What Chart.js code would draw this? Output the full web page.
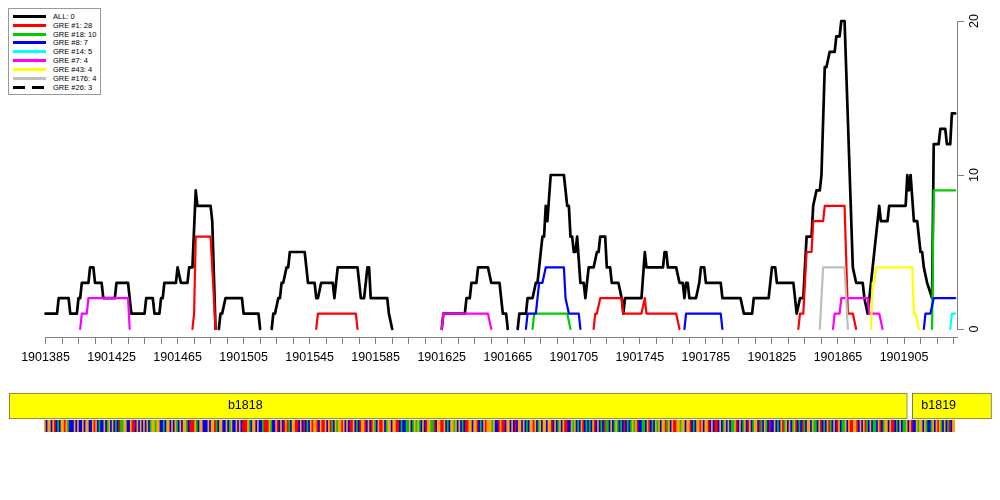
<!DOCTYPE html>
<html>
<head>
<meta charset="utf-8">
<script src="https://cdn.jsdelivr.net/npm/chart.js@4.4.0/dist/chart.umd.min.js"></script>
<style>
  body { margin: 0; background: #fff; }
  #wrap { position: relative; width: 1000px; height: 500px; overflow: hidden; }
  canvas { position: absolute; left: 0; }
  #main { top: 0; }
  #genes { top: 385px; }
  #seq { top: 420px; }
  #legend {
    position: absolute; left: 8px; top: 8px; width: 93px; height: 87px;
    box-sizing: border-box; border: 1px solid #999; background: #fff;
    padding-top: 3px; font: 7.5px "Liberation Sans", Arial, sans-serif; color: #000;
  }
  #legend .row { height: 8.85px; display: flex; align-items: center; }
  #legend .swatch { flex: none; width: 33px; height: 3px; margin: 0 7px 0 4px; }
</style>
</head>
<body>
<div id="wrap">
  <canvas id="main" width="1000" height="385"></canvas>
  <canvas id="genes" width="1000" height="42"></canvas>
  <canvas id="seq" width="1000" height="12"></canvas>
  <div id="legend"></div>
</div>
<script>
// genomic region shown (bp); offsets below are counted from regionStart
const regionStart = 1901385;
const xTickEnd = 1901935;
const xTickLabels = [1901385, 1901425, 1901465, 1901505, 1901545, 1901585, 1901625,
                     1901665, 1901705, 1901745, 1901785, 1901825, 1901865, 1901905];
const yTicks = [0, 10, 20];

const seriesNames = ['ALL: 0', 'GRE #1: 28', 'GRE #18: 10', 'GRE #8: 7', 'GRE #14: 5',
                     'GRE #7: 4', 'GRE #43: 4', 'GRE #176: 4', 'GRE #26: 3'];

// ALL (black) - null breaks the line
const allOffset = [
  0, 7, 8, 14, 15, 19, 20, 21, 22, 26, 27, 29, 30, 34, 35, 42, 43, 50, 52, 60,
  61, 65, 66, 69, 70, 71, 72, 79, 80, 82, 86, 87, 89, 91, 92, 100, 101, 103, 104,
  105, 106, 107, 109, 119, 120, 129, 130, 133,
  137, 138, 139, 141, 142, 143, 144, 146, 147, 148, 157, 158, 159, 163, 164,
  165, 167, 174, 175, 177, 189, 191, 193, 195, 196, 197, 207, 208, 210, 225,
  240, 241, 254, 255, 257, 258, 261, 262, 268, 270, 275, 277, 279, 280, 283,
  286, 287, 291, 292, 295, 297, 298, 299, 301, 302,
  303, 304, 306, 314, 316, 317, 318, 319, 320, 321,
  322, 324, 326, 327, 329, 332, 334, 335, 336, 339,
  340, 342, 343, 347, 349, 350, 351, 361, 363, 364,
  374, 375, 376, 377, 382, 384, 386, 387, 388, 389,
  390, 394, 396, 397, 399, 400, 409, 410, 421, 423,
  428, 429, 438, 439, 440, 442, 443, 453, 455, 457,
  459, 461, 464, 465, 467, 469, 470, 472, 473, 475,
  478, 479, 481, 482, 484, 489, 491, 495, 496, 498,
  500, 502, 503, 505, 506, 510, 511, 521, 522, 523,
  524, 526, 528, 530, 531, 532, 534, 537, 538, 541,
  542, 545, 546, 548, 549, 551
];
const allValue = [
  1, 1, 2, 2, 1, 1, 2, 2, 3, 3, 4, 4, 3, 3, 2, 2, 3, 3, 1, 1,
  2, 2, 1, 1, 2, 2, 3, 3, 4, 3, 3, 4, 4, 9, 8, 8, 7, 0, null,
  0, 1, 1, 2, 2, 1, 1, 0, null,
  0, 1, 1, 2, 2, 3, 3, 4, 4, 5, 5, 4, 3, 3, 2,
  2, 3, 3, 2, 4, 4, 2, 2, 4, 4, 2, 2, 1, 0, null,
  0, 1, 1, 2, 2, 3, 3, 4, 4, 3, 3, 1, 1, 0, null,
  0, 1, 1, 2, 2, 3, 3, 4, 6, 6,
  8, 7, 10, 10, 8, 8, 6, 6, 5, 5,
  6, 3, 3, 2, 4, 4, 5, 5, 6, 6,
  4, 4, 3, 3, 2, 1, 2, 2, 5, 4,
  4, 5, 5, 4, 4, 3, 3, 2, 3, 3,
  2, 2, 3, 4, 4, 3, 3, 2, 2, 1,
  1, 2, 2, 3, 4, 4, 3, 3, 1, 2,
  2, 6, 6, 8, 9, 9, 10, 17, 17, 18,
  18, 19, 19, 20, 20, 4, 3, 3, 2, 1,
  3, 5, 6, 8, 7, 7, 8, 8, 10, 9,
  10, 7, 7, 5, 5, 4, 3, 2, 12, 12,
  13, 13, 12, 12, 14, 14
];

// GRE #1 (red)
const gre1Offset = [89, 90, 91, 100, 103, 130, 164, 165, 188, 189, 260,
  332, 333, 334, 336, 349, 350, 361, 363, 364, 382, 384, 420,
  456, 457, 459, 461, 464, 465, 471, 472, 484, 486, 489, 491];
const gre1Value = [0, 1, 6, 6, 0, null, 0, 1, 1, 0, null,
  0, 1, 1, 2, 2, 1, 1, 2, 1, 1, 0, null,
  0, 1, 1, 5, 5, 7, 7, 8, 8, 1, 1, 0];

// GRE #18 (green)
const gre18Offset = [295, 296, 316, 318, 420, 537, 538, 551];
const gre18Value = [0, 1, 1, 0, null, 0, 9, 9];

// GRE #8 (blue)
const gre8Offset = [291, 292, 297, 299, 301, 303, 314, 315, 317, 323, 324, 350,
  387, 388, 409, 410, 470, 532, 533, 536, 538, 551];
const gre8Value = [0, 1, 1, 3, 3, 4, 4, 2, 1, 1, 0, null,
  0, 1, 1, 0, null, 0, 1, 1, 2, 2];

// GRE #14 (cyan)
const gre14Offset = [548, 549, 551];
const gre14Value = [0, 1, 1];

// GRE #7 (magenta)
const gre7Offset = [21, 22, 25, 26, 50, 51, 150, 240, 241, 268, 270, 400,
  477, 478, 481, 482, 498, 499, 505, 507];
const gre7Value = [0, 1, 1, 2, 2, 0, null, 0, 1, 1, 0, null,
  0, 1, 1, 2, 2, 1, 1, 0];

// GRE #43 (yellow)
const gre43Offset = [500, 501, 502, 503, 525, 526, 527, 529];
const gre43Value = [0, 3, 3, 4, 4, 1, 1, 0];

// GRE #176 (grey)
const gre176Offset = [469, 471, 484, 486];
const gre176Value = [0, 4, 4, 0];

// GRE #26 (dashed) - nothing visible in the plot
const gre26Offset = [];
const gre26Value = [];

// gene track
const geneNames = ['b1818', 'b1819'];
const geneStart = [1901363, 1901910];
const geneEnd = [1901907, 1901958];
const geneLabelAt = [1901506, 1901926];

// sequence strip, one base per bp from regionStart
const seqBases =
  'GCGGCGTCACGGTGACCCGCGCCGCGGCCGTGCACCGCAGCGCACTAAGG' +
  'CCGTTCGCGCGCGCAGGAGGCCACGGCGCGACGCGGACTTTGACGGCCCG' +
  'CGGTACGGCCGCAGCCGCGCTTTGACGGCGCCATTTGACCGTCGCTGTAC' +
  'GGTTCGCTCACGTGGTCGTTGCGTACGAGGTGCGCTTGCACTGGTCGCTG' +
  'ACGTTGCAGGCGGTTCACCAAGCAGAGACGCTGGAATCGGTTGCACGGAG' +
  'CGCACTTGGCGGTCACGTGGGAGCCTGTTCGGCGCTCGGCGCACGGTGCA' +
  'GCGGCGGTCGCAGCGTTCCGAGCACGTCACACGTCGCACTAACGCAGACA' +
  'CTCACAGAGTCCAACGTCACGAGCGGTAGCGTTGGAGGCGGTCACGGTGC' +
  'GGTCGCTTCGCAGCGCAAGTCGCAGCTGCAGGCTACGACTCCGCACGTAG' +
  'CGCAGTCACTACGGCGAACGTCACGTACGCTGCAAGCGTTGGTCGCGTAC' +
  'GCAACGTCAGGCGTTCACGCAAGCGTCCGAGGCGACCAGCGTGACGCATC' +
  'G';

const seriesOffsets = [allOffset, gre1Offset, gre18Offset, gre8Offset, gre14Offset,
                       gre7Offset, gre43Offset, gre176Offset, gre26Offset];
const seriesValues = [allValue, gre1Value, gre18Value, gre8Value, gre14Value,
                      gre7Value, gre43Value, gre176Value, gre26Value];
const seriesColors = ['#000000', '#ff0000', '#00cd00', '#0000ff', '#00ffff',
                      '#ff00ff', '#ffff00', '#bebebe', '#000000'];
const baseColors = { A: '#00c800', C: '#0000ff', G: '#ffa500', T: '#ff0000' };

const axisGray = '#808080';
const tickFont = { family: 'Liberation Sans', size: 12.5 };

// x mapping shared by all three canvases (plot area 45..957 px)
const xMin = 1901384.7;
const xMax = 1901937.1;
const bpPerPx = (xMax - xMin) / 912;
const fullMin = xMin - 45 * bpPerPx;
const fullMax = fullMin + 1000 * bpPerPx;

const xMinorTicks = [];
for (let v = regionStart; v <= xTickEnd; v += 10) xMinorTicks.push(v);

const toPoints = (off, val) => off.map((o, i) => ({ x: regionStart + o, y: val[i] }));

new Chart(document.getElementById('main'), {
  type: 'line',
  data: {
    datasets: seriesNames.map((name, i) => ({
      label: name,
      data: toPoints(seriesOffsets[i], seriesValues[i]),
      borderColor: seriesColors[i],
      backgroundColor: seriesColors[i],
      borderWidth: i === 0 ? 2.7 : 2.2,
      borderDash: i === 8 ? [6, 4] : [],
      borderJoinStyle: 'round',
      borderCapStyle: 'round',
      pointRadius: 0,
      tension: 0,
      spanGaps: false,
      order: 9 - i,
      clip: 6
    }))
  },
  options: {
    responsive: false,
    animation: false,
    events: [],
    layout: { padding: { left: 45, top: 21, right: 0, bottom: 56 } },
    plugins: { legend: { display: false }, tooltip: { enabled: false } },
    scales: {
      x: {
        type: 'linear',
        min: xMin,
        max: xMax,
        position: { y: -0.52 },
        afterFit: (s) => { s.height = 0; },
        afterBuildTicks: (s) => { s.ticks = xMinorTicks.map(v => ({ value: v })); },
        grid: { drawOnChartArea: false, tickLength: 6, color: axisGray },
        border: { color: axisGray },
        ticks: {
          autoSkip: false,
          maxRotation: 0,
          color: '#000',
          font: { ...tickFont, lineHeight: 1.9 },
          callback: (v) => xTickLabels.includes(v) ? String(v) : ''
        }
      },
      y: {
        type: 'linear',
        position: 'right',
        min: 0,
        max: 20,
        afterFit: (s) => { s.width = 43; },
        afterBuildTicks: (s) => { s.ticks = yTicks.map(v => ({ value: v })); },
        grid: { drawOnChartArea: false, tickLength: 7, color: axisGray },
        border: { color: axisGray },
        ticks: {
          minRotation: 90,
          maxRotation: 90,
          crossAlign: 'center',
          padding: 4,
          color: '#000',
          font: tickFont
        }
      }
    }
  }
});

// gene boxes
const geneLabels = {
  id: 'geneLabels',
  afterDatasetsDraw(chart) {
    const { ctx, scales: { x, y } } = chart;
    ctx.save();
    ctx.font = '12.5px "Liberation Sans"';
    ctx.fillStyle = '#000';
    ctx.textAlign = 'center';
    ctx.textBaseline = 'middle';
    geneNames.forEach((n, i) => ctx.fillText(n, x.getPixelForValue(geneLabelAt[i]), y.getPixelForValue(0.5)));
    ctx.restore();
  }
};

new Chart(document.getElementById('genes'), {
  type: 'bar',
  data: {
    datasets: [{
      data: geneNames.map((n, i) => ({ x: [geneStart[i], geneEnd[i]], y: 0.5 })),
      backgroundColor: '#ffff00',
      borderColor: '#707050',
      borderWidth: 1,
      borderSkipped: false,
      barThickness: 26
    }]
  },
  options: {
    indexAxis: 'y',
    responsive: false,
    animation: false,
    events: [],
    plugins: { legend: { display: false }, tooltip: { enabled: false } },
    scales: {
      x: { type: 'linear', min: fullMin, max: fullMax, display: false },
      y: { type: 'linear', min: 0, max: 1, offset: false, display: false }
    }
  },
  plugins: [geneLabels]
});

// sequence strip
const bases = seqBases.split('');
new Chart(document.getElementById('seq'), {
  type: 'bar',
  data: {
    datasets: [{
      data: bases.map((b, i) => ({ x: regionStart + i, y: 1 })),
      backgroundColor: bases.map(b => baseColors[b]),
      borderWidth: 0,
      inflateAmount: 0.6,
      categoryPercentage: 1,
      barPercentage: 1
    }]
  },
  options: {
    responsive: false,
    animation: false,
    events: [],
    plugins: { legend: { display: false }, tooltip: { enabled: false } },
    scales: {
      x: { type: 'linear', min: fullMin, max: fullMax, offset: false, display: false },
      y: { type: 'linear', min: 0, max: 1, display: false }
    }
  }
});

// legend box
const legendEl = document.getElementById('legend');
seriesNames.forEach((name, i) => {
  const row = document.createElement('div');
  row.className = 'row';
  const sw = document.createElement('span');
  sw.className = 'swatch';
  const c = seriesColors[i];
  sw.style.background = i === 8
    ? `repeating-linear-gradient(to right, ${c} 0 12px, transparent 12px 19px)`
    : c;
  const txt = document.createElement('span');
  txt.textContent = name;
  row.appendChild(sw);
  row.appendChild(txt);
  legendEl.appendChild(row);
});
</script>
</body>
</html>
